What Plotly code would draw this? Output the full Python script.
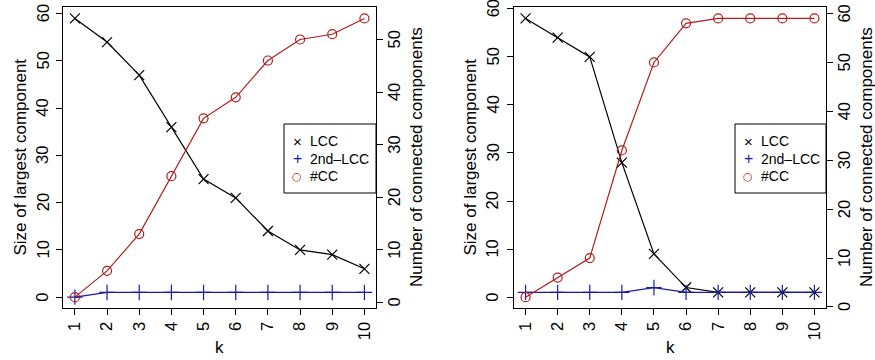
import plotly.graph_objects as go

k = list(range(1, 11))

# Left panel
lcc_a = [59, 54, 47, 36, 25, 21, 14, 10, 9, 6]
lcc2_a = [0, 1, 1, 1, 1, 1, 1, 1, 1, 1]
ncc_a = [1, 6, 13, 24, 35, 39, 46, 50, 51, 54]

# Right panel
lcc_b = [58, 54, 50, 28, 9, 2, 1, 1, 1, 1]
lcc2_b = [1, 1, 1, 1, 2, 1, 1, 1, 1, 1]
ncc_b = [2, 6, 10, 32, 50, 58, 59, 59, 59, 59]

x_ticks = [str(v) for v in k]
yticks_left = [0, 10, 20, 30, 40, 50, 60]
yticks_right_a = [0, 10, 20, 30, 40, 50]
yticks_right_b = [0, 10, 20, 30, 40, 50, 60]
left_title = "Size of largest component"
right_title = "Number of connected components"
x_title = "k"
names = ["LCC", "2nd–LCC", "#CC"]

BLACK = "#000000"
BLUE = "#1a1aa6"
RED = "#b01e1e"
FONT = "Liberation Sans, Arial, sans-serif"
W, H = 875, 360


def rng(vals):
    lo, hi = min(vals), max(vals)
    d = (hi - lo) * 0.04
    return [lo - d, hi + d]


fig = go.Figure()


def add_panel(lcc, lcc2, ncc, xa, ya, ya2):
    fig.add_trace(go.Scatter(x=k, y=lcc, mode="lines+markers", xaxis=xa, yaxis=ya, name=names[0],
                             line=dict(color=BLACK, width=1.2),
                             marker=dict(symbol="x-thin", size=10, line=dict(color=BLACK, width=1.2)),
                             showlegend=False))
    fig.add_trace(go.Scatter(x=k, y=lcc2, mode="lines+markers", xaxis=xa, yaxis=ya, name=names[1],
                             line=dict(color=BLUE, width=1.2),
                             marker=dict(symbol="cross-thin", size=11, line=dict(color=BLUE, width=1.2)),
                             showlegend=False))
    fig.add_trace(go.Scatter(x=k, y=ncc, mode="lines+markers", xaxis=xa, yaxis=ya2, name=names[2],
                             line=dict(color=RED, width=1.2),
                             marker=dict(symbol="circle-open", size=9, color=RED, line=dict(color=RED, width=1.2)),
                             showlegend=False))


add_panel(lcc_a, lcc2_a, ncc_a, "x", "y", "y2")
add_panel(lcc_b, lcc2_b, ncc_b, "x2", "y3", "y4")

ydom = [1 - 308.3 / H, 1 - 7.3 / H]
xdom1 = [63.3 / W, 376 / W]
xdom2 = [514 / W, 826 / W]

tickfont = dict(family=FONT, size=16.5, color=BLACK)
common_x = dict(range=[1 - 0.36, 10 + 0.36], tickmode="array", tickvals=k, ticktext=x_ticks,
                tickangle=-90, ticks="outside", ticklen=6, tickcolor=BLACK, tickwidth=1,
                showline=True, linecolor=BLACK, linewidth=1, mirror=True,
                showgrid=False, zeroline=False, tickfont=tickfont)
common_y = dict(dtick=10, tick0=0, ticks="outside", ticklen=6, tickcolor=BLACK,
                tickwidth=1, showgrid=False, zeroline=False, showticklabels=False)

fig.update_layout(
    width=W, height=H, autosize=False,
    margin=dict(l=0, r=0, t=0, b=0),
    paper_bgcolor="white", plot_bgcolor="white",
    font=dict(family=FONT, color=BLACK),
    showlegend=False,
    xaxis=dict(domain=xdom1, anchor="y", **common_x),
    xaxis2=dict(domain=xdom2, anchor="y3", **common_x),
    yaxis=dict(domain=ydom, anchor="x", range=rng(lcc_a + [0]), showline=True, linecolor=BLACK,
               linewidth=1, mirror=True, **common_y),
    yaxis2=dict(overlaying="y", side="right", anchor="x", range=rng(ncc_a), showline=False, **common_y),
    yaxis3=dict(domain=ydom, anchor="x2", range=rng(lcc_b + [0]), showline=True, linecolor=BLACK,
                linewidth=1, mirror=True, **common_y),
    yaxis4=dict(overlaying="y3", side="right", anchor="x2", range=rng(ncc_b), showline=False, **common_y),
)

# Vertical (parallel-to-axis) y tick labels, centred on their ticks via the axis scales
tick_label_sets = [
    (yticks_left, "y", 42.5),
    (yticks_right_a, "y2", 394.0),
    (yticks_left, "y3", 492.5),
    (yticks_right_b, "y4", 844.0),
]
for vals, yref, xpx in tick_label_sets:
    for v in vals:
        fig.add_annotation(x=xpx / W, y=v, xref="paper", yref=yref, text=str(v), textangle=-90,
                           showarrow=False, xanchor="center", yanchor="middle", font=tickfont)

titlefont = dict(family=FONT, size=17, color=BLACK)
ann = [
    (20 / W, 1 - 157.5 / H, left_title, -90),
    (416.5 / W, 1 - 157.5 / H, right_title, -90),
    (219.5 / W, 1 - 347 / H, x_title, 0),
    (470 / W, 1 - 157.5 / H, left_title, -90),
    (866.5 / W, 1 - 157.5 / H, right_title, -90),
    (670 / W, 1 - 347 / H, x_title, 0),
]
for x, y, t, a in ann:
    fig.add_annotation(x=x, y=y, xref="paper", yref="paper", text=t, textangle=a,
                       showarrow=False, xanchor="center", yanchor="middle", font=titlefont)

# Legends (drawn as a framed key in the upper right-middle of each panel)
legend_boxes = [(284, 376), (735, 826)]
sym_text = ["×", "+", "○"]
sym_colors = [BLACK, BLUE, RED]
sym_sizes = [15, 16, 11]
row_y = [141.3, 158.7, 176.0]
for (x0, x1) in legend_boxes:
    fig.add_shape(type="rect", xref="paper", yref="paper",
                  x0=x0 / W, x1=x1 / W, y0=1 - 124 / H, y1=1 - 193 / H,
                  line=dict(color=BLACK, width=1), fillcolor="white", layer="above")
    for nm, st, col, sz, yy in zip(names, sym_text, sym_colors, sym_sizes, row_y):
        fig.add_annotation(x=(x0 + 13) / W, y=1 - yy / H, xref="paper", yref="paper", text=st,
                           showarrow=False, xanchor="center", yanchor="middle",
                           font=dict(family="DejaVu Sans" if st == "○" else FONT, size=sz, color=col))
        fig.add_annotation(x=(x0 + 24) / W, y=1 - yy / H, xref="paper", yref="paper", text=nm,
                           showarrow=False, xanchor="left", yanchor="middle",
                           font=dict(family=FONT, size=14, color=BLACK))

fig.write_html("out.html",
               config={"displayModeBar": False},
               post_script="document.body.style.margin='0';document.body.style.overflow='hidden';")
